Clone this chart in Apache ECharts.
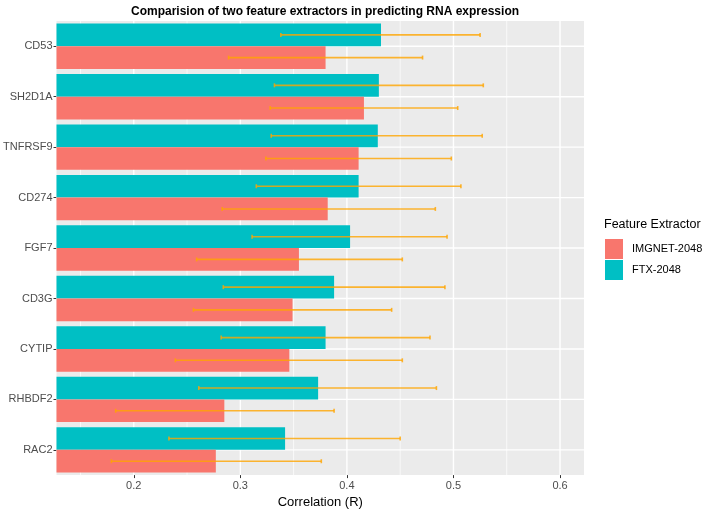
<!DOCTYPE html>
<html><head><meta charset="utf-8">
<script src="https://cdn.jsdelivr.net/npm/echarts@6/dist/echarts.min.js"></script>
<style>html,body{margin:0;padding:0;background:#fff}#c{width:708px;height:514px}</style>
</head><body><div id="c"></div>
<script>
const categories = ['CD53','SH2D1A','TNFRSF9','CD274','FGF7','CD3G','CYTIP','RHBDF2','RAC2'];
const ftxValues = [0.432,0.430,0.429,0.411,0.403,0.388,0.380,0.373,0.342];
const ftxLow    = [0.338,0.332,0.329,0.315,0.311,0.284,0.282,0.261,0.233];
const ftxHigh   = [0.525,0.528,0.527,0.507,0.494,0.492,0.478,0.484,0.450];
const imgValues = [0.380,0.416,0.411,0.382,0.355,0.349,0.346,0.285,0.277];
const imgLow    = [0.289,0.328,0.324,0.283,0.259,0.256,0.239,0.183,0.179];
const imgHigh   = [0.471,0.504,0.498,0.483,0.452,0.442,0.452,0.388,0.376];
const majorTicks = [0.2,0.3,0.4,0.5,0.6];
const minorTicks = [0.15,0.25,0.35,0.45,0.55];
const xRange = [0.1275, 0.6225];

const FONT = '"Liberation Sans", Arial, sans-serif';
const chart = echarts.init(document.getElementById('c'), null, {renderer:'canvas'});

function vLine(width){
  return function(params, api){
    const x = api.coord([api.value(0), 0])[0];
    const cs = params.coordSys;
    return {type:'line', shape:{x1:x,y1:cs.y,x2:x,y2:cs.y+cs.height}, style:{stroke:'#ffffff', lineWidth:width}};
  };
}
function hLine(params, api){
  const y = api.coord([xRange[0], api.value(1)])[1];
  const cs = params.coordSys;
  return {type:'line', shape:{x1:cs.x,y1:y,x2:cs.x+cs.width,y2:y}, style:{stroke:'#ffffff', lineWidth:1.4}};
}
function errRender(side){
  return function(params, api){
    const cat = api.value(2);
    const p1 = api.coord([api.value(0), cat]);
    const p2 = api.coord([api.value(1), cat]);
    const band = api.size([0,1])[1];
    const y = p1[1] + side * band * 0.225;
    const h = 2;
    const style = {stroke:'#FFA500', lineWidth:1.6, opacity:0.8};
    return {type:'group', children:[
      {type:'line', shape:{x1:p1[0],y1:y,x2:p2[0],y2:y}, style:style},
      {type:'line', shape:{x1:p1[0],y1:y-h,x2:p1[0],y2:y+h}, style:style},
      {type:'line', shape:{x1:p2[0],y1:y-h,x2:p2[0],y2:y+h}, style:style}
    ]};
  };
}

const option = {
  animation:false,
  backgroundColor:'#ffffff',
  title:[
    {text:'Comparision of two feature extractors in predicting RNA expression', left:320, top:1, textAlign:'center',
     textStyle:{fontFamily:FONT, fontSize:12, fontWeight:'bold', color:'#000'}},
    {text:'Feature Extractor', left:599, top:213, textStyle:{fontFamily:FONT, fontSize:12.5, fontWeight:'normal', color:'#000'}}
  ],
  legend:{
    orient:'vertical', left:600, top:234, itemWidth:18, itemHeight:20, itemGap:1, icon:'rect',
    data:['IMGNET-2048','FTX-2048'],
    textStyle:{fontFamily:FONT, fontSize:11, color:'#000', padding:[0,0,0,4]}
  },
  grid:{left:55, right:124, top:21, bottom:37, show:true, backgroundColor:'#EBEBEB', borderWidth:0, containLabel:false},
  xAxis:{
    type:'value', min:xRange[0], max:xRange[1],
    name:'Correlation (R)', nameLocation:'middle', nameGap:19,
    nameTextStyle:{fontFamily:FONT, fontSize:13, color:'#000'},
    axisLine:{show:false},
    axisTick:{show:true, length:3, lineStyle:{color:'#333'}, customValues:majorTicks},
    axisLabel:{fontFamily:FONT, fontSize:11, color:'#4D4D4D', margin:5, customValues:majorTicks, formatter:v=>String(v)},
    splitLine:{show:false}
  },
  yAxis:{
    type:'category', data:categories, inverse:true,
    axisLine:{show:false},
    axisTick:{show:true, length:3, alignWithLabel:true, lineStyle:{color:'#333'}},
    axisLabel:{fontFamily:FONT, fontSize:11, color:'#4D4D4D', margin:4},
    splitLine:{show:false}
  },
  series:[
    {type:'custom', name:'minorGrid', silent:true, z:1, renderItem:vLine(0.7), encode:{x:0,y:1},
     data:minorTicks.map(v=>[v,0])},
    {type:'custom', name:'majorGrid', silent:true, z:1, renderItem:vLine(1.4), encode:{x:0,y:1},
     data:majorTicks.map(v=>[v,0])},
    {type:'custom', name:'hGrid', silent:true, z:1, renderItem:hLine, encode:{x:0,y:1},
     data:categories.map((c,i)=>[xRange[0],i])},
    {type:'bar', name:'FTX-2048', data:ftxValues, itemStyle:{color:'#00BFC4'}, barGap:'0%', barCategoryGap:'10%', z:2},
    {type:'bar', name:'IMGNET-2048', data:imgValues, itemStyle:{color:'#F8766D'}, barGap:'0%', barCategoryGap:'10%', z:2},
    {type:'custom', name:'errFTX', silent:true, z:3, renderItem:errRender(-1), encode:{x:[0,1],y:2},
     data:categories.map((c,i)=>[ftxLow[i],ftxHigh[i],i])},
    {type:'custom', name:'errIMG', silent:true, z:3, renderItem:errRender(1), encode:{x:[0,1],y:2},
     data:categories.map((c,i)=>[imgLow[i],imgHigh[i],i])}
  ]
};
chart.setOption(option);
</script></body></html>
